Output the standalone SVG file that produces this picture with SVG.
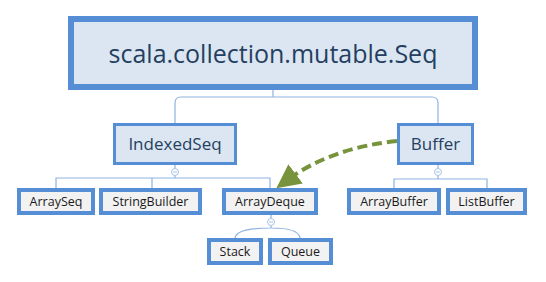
<svg xmlns="http://www.w3.org/2000/svg" width="546" height="282" viewBox="0 0 546 282">
<style>
  .conn { fill: none; stroke: #8db3e2; stroke-width: 1.2; }
  .col { fill: #ffffff; stroke: #a9c1e8; stroke-width: 1; }
  .colbar { stroke: #a9c1e8; stroke-width: 1; }
  .root rect { fill: #dce6f2; stroke: #558ed5; stroke-width: 6; }
  .mid rect { fill: #dce6f2; stroke: #558ed5; stroke-width: 3; }
  .leaf rect { fill: #f2f2f2; stroke: #558ed5; stroke-width: 4; }
  text { font-family: "Open Sans", "Noto Sans", "DejaVu Sans", sans-serif; text-anchor: middle; }
  .root text { font-size: 25px; fill: #243f60; }
  .mid text { font-size: 17px; fill: #243f60; }
  .leaf text { font-size: 12.5px; fill: #1a1a1a; }
</style>
<defs>
  <marker id="ah" markerWidth="6" markerHeight="6" refX="3" refY="3" orient="auto" markerUnits="strokeWidth">
    <path d="M0,0 L6,3 L0,6 Z" fill="#77933c"/>
  </marker>
</defs>

<g id="connectors">
  <path class="conn" d="M273,90 V97 M175,123 V103 Q175,97 181,97 H432 Q438,97 438,103 V123"/>
  <path class="conn" d="M175,165 V168.5 M175,175.5 V178 M56,188 V178 H270 V188 M152,178 V188"/>
  <path class="conn" d="M438,165 V168.5 M438,175.5 V179 M394,188 V179 H487 V188"/>
  <path class="conn" d="M271,215 V218.5 M235,238 C236,230 255,228 271,228 C287,228 299,230 300,238 M271,225.5 V228"/>
  <circle class="col" cx="175" cy="172" r="3.5"/>
  <line class="colbar" x1="173" y1="172" x2="177" y2="172"/>
  <circle class="col" cx="438" cy="172" r="3.5"/>
  <line class="colbar" x1="436" y1="172" x2="440" y2="172"/>
  <circle class="col" cx="271" cy="222" r="3.5"/>
  <line class="colbar" x1="269" y1="222" x2="273" y2="222"/>
  <path d="M397,141 Q330,148 286,181" fill="none" stroke="#77933c" stroke-width="4" stroke-dasharray="10,5" marker-end="url(#ah)"/>
</g>

<g id="root" class="root">
  <rect x="71" y="19" width="404" height="68"/>
  <text x="273" y="63">scala.collection.mutable.Seq</text>
</g>
<g id="IndexedSeq" class="mid">
  <rect x="114.5" y="124.5" width="121" height="39"/>
  <text x="175" y="150">IndexedSeq</text>
</g>
<g id="Buffer" class="mid">
  <rect x="398.5" y="124.5" width="74" height="39"/>
  <text x="435.5" y="150">Buffer</text>
</g>
<g id="ArraySeq" class="leaf">
  <rect x="19" y="190" width="74" height="23"/>
  <text x="56" y="206">ArraySeq</text>
</g>
<g id="StringBuilder" class="leaf">
  <rect x="101" y="190" width="99" height="23"/>
  <text x="150.5" y="206">StringBuilder</text>
</g>
<g id="ArrayDeque" class="leaf">
  <rect x="224" y="190" width="92" height="23"/>
  <text x="270" y="206">ArrayDeque</text>
</g>
<g id="ArrayBuffer" class="leaf">
  <rect x="349" y="190" width="90" height="23"/>
  <text x="394" y="206">ArrayBuffer</text>
</g>
<g id="ListBuffer" class="leaf">
  <rect x="448" y="190" width="77" height="23"/>
  <text x="486.5" y="206">ListBuffer</text>
</g>
<g id="Stack" class="leaf">
  <rect x="209" y="240" width="52" height="23"/>
  <text x="235" y="256">Stack</text>
</g>
<g id="Queue" class="leaf">
  <rect x="270" y="240" width="61" height="23"/>
  <text x="300.5" y="256">Queue</text>
</g>
</svg>
